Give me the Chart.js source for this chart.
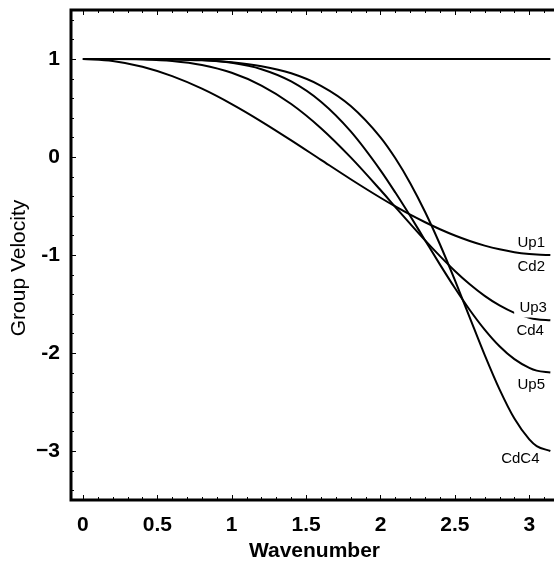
<!DOCTYPE html>
<html><head><meta charset="utf-8">
<script src="https://cdn.jsdelivr.net/npm/chart.js@4.4.1/dist/chart.umd.min.js"></script>
<style>
html,body{margin:0;padding:0;background:#fff;overflow:hidden;}
#wrap{position:absolute;left:0;top:0;width:562px;height:567px;}
</style></head><body>
<div id="wrap"><canvas id="c" width="562" height="567"></canvas></div>
<script>
// ---- data ----
const wavenumbers = [0, 0.2, 0.4, 0.6, 0.8, 1.0, 1.2, 1.4, 1.6, 1.8, 2.0, 2.1, 2.2, 2.3, 2.4, 2.5, 2.6, 2.7, 2.8, 2.9, 3.0, 3.05, 3.1416];
const exactWavenumbers = [0, 3.1416];
const exactVelocity = [1, 1];
const up1Cd2 = [1, 0.980, 0.921, 0.825, 0.697, 0.540, 0.362, 0.170, -0.029, -0.227, -0.416, -0.505, -0.589, -0.666, -0.737, -0.801, -0.857, -0.904, -0.942, -0.971, -0.990, -0.996, -1.0];
const up3Cd4 = [1, 1.000, 0.996, 0.980, 0.939, 0.859, 0.729, 0.541, 0.294, -0.004, -0.337, -0.510, -0.682, -0.851, -1.012, -1.163, -1.299, -1.417, -1.515, -1.590, -1.640, -1.656, -1.667];
const up5 = [1, 1.000, 1.000, 0.998, 0.989, 0.961, 0.896, 0.771, 0.564, 0.261, -0.136, -0.363, -0.603, -0.851, -1.098, -1.337, -1.561, -1.761, -1.931, -2.063, -2.152, -2.180, -2.2];
const cdC4 = [1, 1.000, 0.999, 0.996, 0.987, 0.967, 0.927, 0.854, 0.727, 0.521, 0.201, -0.013, -0.267, -0.561, -0.893, -1.257, -1.639, -2.019, -2.371, -2.669, -2.882, -2.950, -3.0];

const xTickValues = [0, 0.5, 1, 1.5, 2, 2.5, 3];
const xTickLabels = ['0', '0.5', '1', '1.5', '2', '2.5', '3'];
const yTickValues = [1, 0, -1, -2, -3];
const yTickLabels = ['1', '0', '-1', '-2', '\u22123'];

const curveLabelTexts = ['Up1', 'Cd2', 'Up3', 'Cd4', 'Up5', 'CdC4'];
const curveLabelX = [3.013, 3.013, 3.026, 3.006, 3.013, 2.94];
const curveLabelY = [-0.878, -1.122, -1.541, -1.776, -2.327, -3.082];

const xTitle = 'Wavenumber';
const yTitle = 'Group Velocity';

// ---- chart ----
const FONT = "'Liberation Sans', Arial, Helvetica, sans-serif";
const pts = (xs, ys) => xs.map((x, i) => ({x: x, y: ys[i]}));
const lineStyle = {borderColor: '#000', borderWidth: 2, pointRadius: 0, fill: false, cubicInterpolationMode: 'monotone'};

const framePlugin = {
  id: 'frame',
  afterDatasetsDraw(chart) {
    const {ctx, chartArea: a, scales: {x, y}} = chart;
    ctx.save();
    // curve labels
    ctx.font = "15px " + FONT;
    ctx.textAlign = 'center';
    ctx.textBaseline = 'middle';
    curveLabelTexts.forEach((t, i) => {
      const px = x.getPixelForValue(curveLabelX[i]);
      const py = y.getPixelForValue(curveLabelY[i]);
      if (t === 'Up3') {
        ctx.fillStyle = '#fff';
        ctx.fillRect(px - 19, py - 8, 32, 17.5);
      }
      ctx.fillStyle = '#000';
      ctx.fillText(t, px, py);
    });
    // ticks (inward)
    ctx.strokeStyle = '#000';
    ctx.lineWidth = 1;
    ctx.beginPath();
    for (let i = 0; i <= 32; i++) {
      const v = i / 10;
      const px = Math.round(x.getPixelForValue(v)) + 0.5;
      const len = (i % 5 === 0) ? 5 : 3;
      ctx.moveTo(px, a.bottom); ctx.lineTo(px, a.bottom - len);
      ctx.moveTo(px, a.top); ctx.lineTo(px, a.top + len);
    }
    for (let i = -17; i <= 7; i++) {
      const v = i / 5;
      const py = Math.round(y.getPixelForValue(v)) + 0.5;
      const len = (i % 5 === 0) ? 5 : 3;
      ctx.moveTo(a.left, py); ctx.lineTo(a.left + len, py);
    }
    ctx.stroke();
    // frame
    ctx.lineWidth = 3;
    ctx.strokeRect(a.left, a.top, a.right - a.left, a.bottom - a.top);
    // y title
    ctx.font = "21px " + FONT;
    ctx.fillStyle = '#000';
    ctx.textAlign = 'center';
    ctx.textBaseline = 'alphabetic';
    ctx.translate(25, 268);
    ctx.rotate(-Math.PI / 2);
    ctx.fillText(yTitle, 0, 0);
    ctx.restore();
  }
};

new Chart(document.getElementById('c'), {
  type: 'line',
  data: {
    datasets: [
      Object.assign({label: 'Exact', data: pts(exactWavenumbers, exactVelocity)}, lineStyle),
      Object.assign({label: 'Up1/Cd2', data: pts(wavenumbers, up1Cd2)}, lineStyle),
      Object.assign({label: 'Up3/Cd4', data: pts(wavenumbers, up3Cd4)}, lineStyle),
      Object.assign({label: 'Up5', data: pts(wavenumbers, up5)}, lineStyle),
      Object.assign({label: 'CdC4', data: pts(wavenumbers, cdC4)}, lineStyle)
    ]
  },
  options: {
    responsive: false,
    devicePixelRatio: 1,
    animation: false,
    layout: {padding: {left: 0, right: 4, top: 10, bottom: 0}},
    plugins: {legend: {display: false}, tooltip: {enabled: false}},
    scales: {
      x: {
        type: 'linear', min: -0.08, max: 3.193,
        grid: {display: false, drawTicks: false},
        border: {display: false},
        afterBuildTicks: s => { s.ticks = xTickValues.map(v => ({value: v})); },
        afterFit: s => { s.height = 67; s.paddingLeft = 0; s.paddingRight = 0; },
        ticks: {
          color: '#000', padding: 13, maxRotation: 0, autoSkip: false,
          font: {family: FONT, size: 21, weight: 'bold'},
          callback: (v, i) => xTickLabels[i]
        },
        title: {display: true, text: xTitle, color: '#000', padding: {top: 0, bottom: 3},
          font: {family: FONT, size: 21, weight: 'bold'}}
      },
      y: {
        type: 'linear', min: -3.5, max: 1.5,
        grid: {display: false, drawTicks: false},
        border: {display: false},
        afterBuildTicks: s => { s.ticks = yTickValues.map(v => ({value: v})); },
        afterFit: s => { s.width = 71; s.paddingTop = 0; s.paddingBottom = 0; },
        ticks: {
          color: '#000', padding: 11, autoSkip: false,
          font: {family: FONT, size: 21, weight: 'bold'},
          callback: (v, i) => yTickLabels[i]
        }
      }
    }
  },
  plugins: [framePlugin]
});
</script>
</body></html>
